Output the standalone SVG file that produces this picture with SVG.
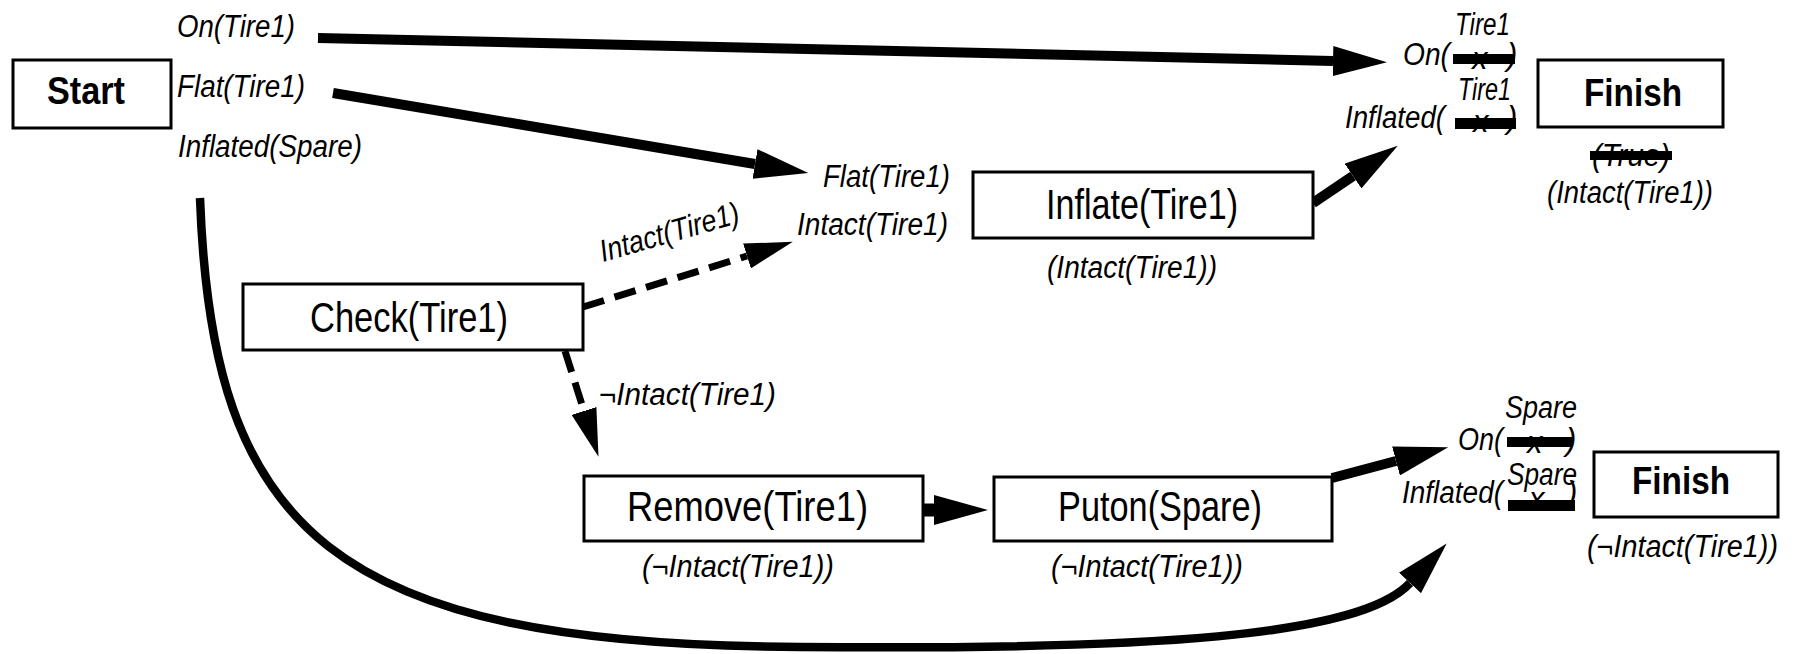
<svg xmlns="http://www.w3.org/2000/svg" width="1797" height="654" viewBox="0 0 1797 654">
<style>
.box{fill:#fff;stroke:#000;stroke-width:3}
.t{font-family:"Liberation Sans",Arial,sans-serif;fill:#000}
.b{font-weight:bold;font-size:38px}
.a{font-size:43px}
.i{font-style:italic;font-size:31px}
.ln{fill:none;stroke:#000;stroke-width:10}
.cv{fill:none;stroke:#000;stroke-width:8.5}
.ds{fill:none;stroke:#000;stroke-width:7;stroke-dasharray:22 11}
.bar{fill:#000}
</style>
<defs>
<marker id="ah" markerUnits="userSpaceOnUse" markerWidth="54" markerHeight="30" viewBox="0 0 54 30" refX="0" refY="15" orient="auto"><path d="M0,0 L54,15 L0,30 Z"/></marker>
<marker id="ahd" markerUnits="userSpaceOnUse" markerWidth="48" markerHeight="26" viewBox="0 0 48 26" refX="0" refY="13" orient="auto"><path d="M0,0 L48,13 L0,26 Z"/></marker>
</defs>

<g id="connectors">
<path class="ln" d="M318,38 L1333,61" marker-end="url(#ah)"/>
<path class="ln" d="M333,93 L755,164" marker-end="url(#ah)"/>
<path class="ds" d="M583,307 L747,256" marker-end="url(#ahd)"/>
<path class="ds" d="M565,351 L584,411" marker-end="url(#ahd)"/>
<path class="ln" d="M1313,203 L1353,176" marker-end="url(#ah)"/>
<path class="ln" style="stroke-width:13" d="M923,510 L934,510" marker-end="url(#ah)"/>
<path class="ln" d="M1332,478 L1396,461" marker-end="url(#ah)"/>
<path class="cv" d="M200,198 C212,530 330,645 800,647 C1150,650 1360,637 1410,583" marker-end="url(#ah)"/>
<text class="t i" transform="translate(603,262) rotate(-16)" textLength="144" lengthAdjust="spacingAndGlyphs">Intact(Tire1)</text>
<text class="t i" x="599" y="405" textLength="177" lengthAdjust="spacingAndGlyphs">¬Intact(Tire1)</text>
</g>

<g id="start">
<rect class="box" x="13" y="60" width="158" height="68"/>
<text class="t b" x="47" y="104" textLength="78" lengthAdjust="spacingAndGlyphs">Start</text>
<text class="t i" x="177" y="37" textLength="118" lengthAdjust="spacingAndGlyphs">On(Tire1)</text>
<text class="t i" x="177" y="97" textLength="128" lengthAdjust="spacingAndGlyphs">Flat(Tire1)</text>
<text class="t i" x="178" y="157" textLength="184" lengthAdjust="spacingAndGlyphs">Inflated(Spare)</text>
</g>

<g id="inflate">
<rect class="box" x="973" y="172" width="340" height="66"/>
<text class="t a" x="1046" y="219" textLength="192" lengthAdjust="spacingAndGlyphs">Inflate(Tire1)</text>
<text class="t i" x="823" y="187" textLength="127" lengthAdjust="spacingAndGlyphs">Flat(Tire1)</text>
<text class="t i" x="797" y="235" textLength="151" lengthAdjust="spacingAndGlyphs">Intact(Tire1)</text>
<text class="t i" x="1047" y="278" textLength="170" lengthAdjust="spacingAndGlyphs">(Intact(Tire1))</text>
</g>

<g id="check">
<rect class="box" x="243" y="284" width="340" height="66"/>
<text class="t a" x="310" y="332" textLength="198" lengthAdjust="spacingAndGlyphs">Check(Tire1)</text>
</g>

<g id="remove">
<rect class="box" x="584" y="476" width="339" height="65"/>
<text class="t a" x="627" y="521" textLength="241" lengthAdjust="spacingAndGlyphs">Remove(Tire1)</text>
<text class="t i" x="642" y="577" textLength="192" lengthAdjust="spacingAndGlyphs">(¬Intact(Tire1))</text>
</g>

<g id="puton">
<rect class="box" x="994" y="477" width="338" height="64"/>
<text class="t a" x="1058" y="521" textLength="204" lengthAdjust="spacingAndGlyphs">Puton(Spare)</text>
<text class="t i" x="1051" y="577" textLength="192" lengthAdjust="spacingAndGlyphs">(¬Intact(Tire1))</text>
</g>

<g id="finish1">
<rect class="box" x="1538" y="60" width="185" height="67"/>
<text class="t b" x="1584" y="106" textLength="98" lengthAdjust="spacingAndGlyphs">Finish</text>
<text class="t i" x="1455" y="35" textLength="55" lengthAdjust="spacingAndGlyphs">Tire1</text>
<text class="t i" x="1403" y="65" textLength="47" lengthAdjust="spacingAndGlyphs">On(</text>
<text class="t i" x="1472" y="69">x</text>
<rect class="bar" x="1453" y="54" width="62" height="10"/>
<text class="t i" x="1507" y="65">)</text>
<text class="t i" x="1458" y="100" textLength="53" lengthAdjust="spacingAndGlyphs">Tire1</text>
<text class="t i" x="1345" y="128" textLength="100" lengthAdjust="spacingAndGlyphs">Inflated(</text>
<text class="t i" x="1473" y="132">x</text>
<rect class="bar" x="1455" y="118" width="61" height="11"/>
<text class="t i" x="1507" y="128">)</text>
<text class="t i" x="1592" y="166" textLength="78" lengthAdjust="spacingAndGlyphs">(True)</text>
<rect class="bar" x="1590" y="151" width="82" height="9"/>
<text class="t i" x="1547" y="203" textLength="166" lengthAdjust="spacingAndGlyphs">(Intact(Tire1))</text>
</g>

<g id="finish2">
<rect class="box" x="1594" y="452" width="184" height="65"/>
<text class="t b" x="1632" y="494" textLength="98" lengthAdjust="spacingAndGlyphs">Finish</text>
<text class="t i" x="1505" y="418" textLength="72" lengthAdjust="spacingAndGlyphs">Spare</text>
<text class="t i" x="1458" y="450" textLength="45" lengthAdjust="spacingAndGlyphs">On(</text>
<text class="t i" x="1527" y="453">x</text>
<rect class="bar" x="1507" y="437" width="66" height="10"/>
<text class="t i" x="1566" y="450">)</text>
<text class="t i" x="1507" y="485" textLength="70" lengthAdjust="spacingAndGlyphs">Spare</text>
<text class="t i" x="1402" y="503" textLength="101" lengthAdjust="spacingAndGlyphs">Inflated(</text>
<text class="t i" x="1529" y="509">x</text>
<rect class="bar" x="1508" y="500" width="67" height="11"/>
<text class="t i" x="1567" y="503">)</text>
<text class="t i" x="1587" y="557" textLength="191" lengthAdjust="spacingAndGlyphs">(¬Intact(Tire1))</text>
</g>
</svg>
